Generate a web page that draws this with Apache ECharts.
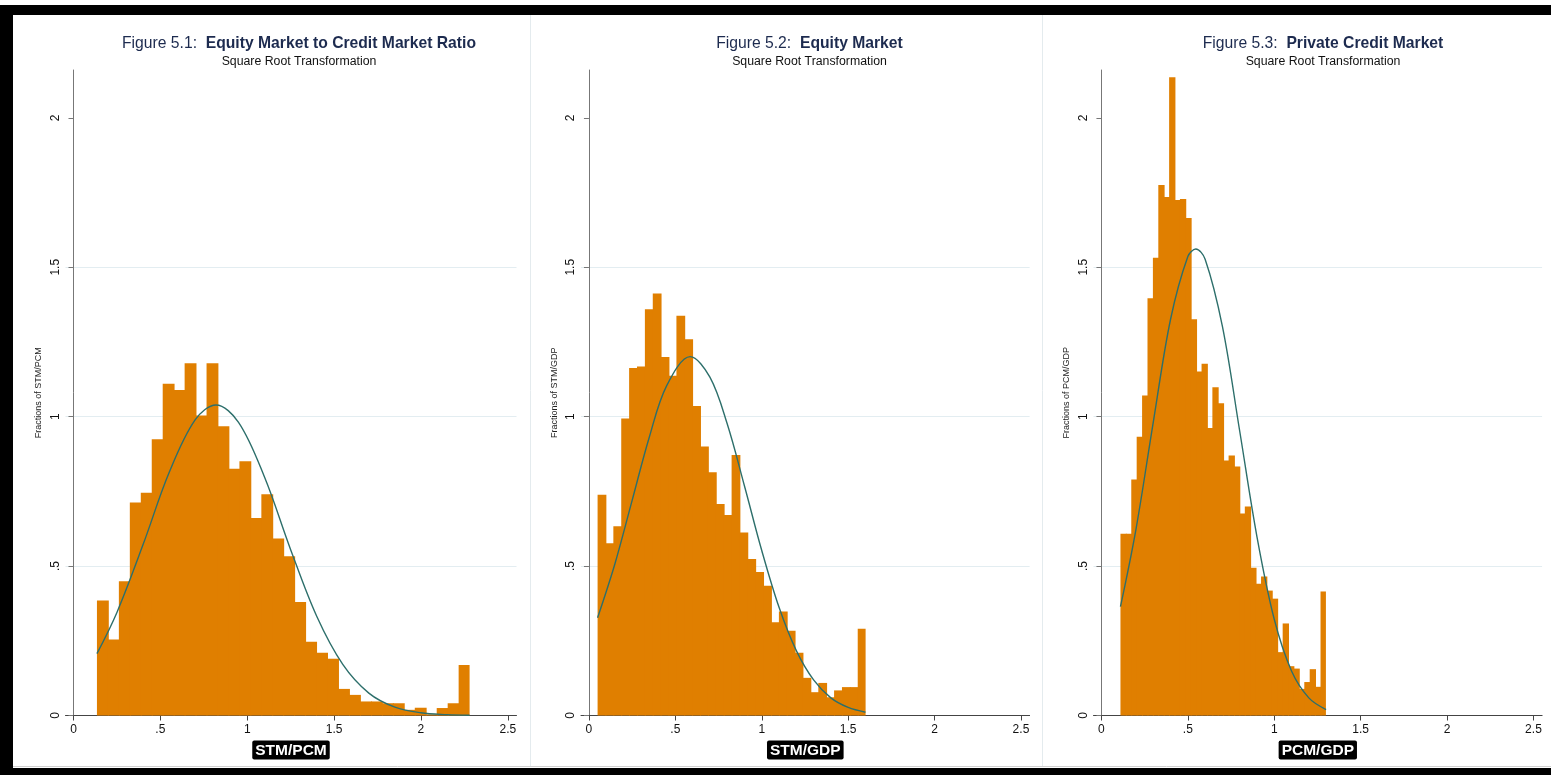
<!DOCTYPE html>
<html>
<head>
<meta charset="utf-8">
<script src="https://cdn.jsdelivr.net/npm/echarts@6/dist/echarts.min.js"></script>
<style>
  html, body { margin: 0; padding: 0; background: #fff; }
  #chart { width: 1551px; height: 775px; }
</style>
</head>
<body>
<div id="chart"></div>
<script>
// histogram bar heights (fractions)
const ratioRange = [0.135, 2.28];
const ratioHeights = [0.385, 0.254, 0.449, 0.713, 0.745, 0.924, 1.110, 1.089, 1.179, 1.004,
  1.179, 0.968, 0.826, 0.851, 0.661, 0.740, 0.592, 0.533, 0.380, 0.247,
  0.210, 0.190, 0.089, 0.069, 0.047, 0.047, 0.041, 0.041, 0.019, 0.026,
  0.004, 0.025, 0.041, 0.169];
const ratioCurve = [[0.135, 0.207], [0.25, 0.345], [0.4, 0.571], [0.55, 0.812], [0.7, 0.989],
  [0.82, 1.039], [0.95, 0.981], [1.1, 0.797], [1.25, 0.555], [1.4, 0.332], [1.55, 0.171],
  [1.7, 0.075], [1.85, 0.028], [2.0, 0.009], [2.15, 0.003], [2.28, 0.001]];

const equityRange = [0.05, 1.601];
const equityHeights = [0.739, 0.576, 0.633, 0.994, 1.163, 1.168, 1.359, 1.412, 1.200, 1.137,
  1.338, 1.259, 1.036, 0.900, 0.814, 0.708, 0.671, 0.872, 0.612, 0.524,
  0.480, 0.434, 0.312, 0.348, 0.284, 0.210, 0.126, 0.078, 0.109, 0.061,
  0.084, 0.095, 0.095, 0.290];
const equityCurve = [[0.05, 0.327], [0.15, 0.507], [0.25, 0.720], [0.35, 0.933], [0.45, 1.104],
  [0.586, 1.201], [0.7, 1.132], [0.8, 0.976], [0.9, 0.768], [1.0, 0.552], [1.1, 0.362],
  [1.2, 0.217], [1.3, 0.119], [1.4, 0.059], [1.5, 0.027], [1.6, 0.011]];

const creditRange = [0.11, 1.299];
const creditHeights = [0.608, 0.608, 0.790, 0.933, 1.071, 1.396, 1.532, 1.775, 1.735, 2.136,
  1.725, 1.728, 1.665, 1.326, 1.151, 1.177, 0.962, 1.098, 1.045, 0.853,
  0.870, 0.833, 0.676, 0.699, 0.494, 0.441, 0.465, 0.418, 0.391, 0.212,
  0.308, 0.165, 0.157, 0.089, 0.112, 0.155, 0.096, 0.415];
const creditCurve = [[0.11, 0.364], [0.2, 0.624], [0.3, 0.982], [0.4, 1.326], [0.5, 1.536],
  [0.546, 1.561], [0.6, 1.527], [0.7, 1.302], [0.8, 0.952], [0.9, 0.598], [1.0, 0.322],
  [1.1, 0.149], [1.2, 0.059], [1.3, 0.020]];

const xTicks = [0, 0.5, 1, 1.5, 2, 2.5];
const yTicks = [0, 0.5, 1, 1.5, 2];

const font = "'Liberation Sans', Arial, Helvetica, sans-serif";
const navy = '#1d2b4f';

const panels = [
  { fig: 'Figure 5.1:  ', name: 'Equity Market to Credit Market Ratio', xName: 'STM/PCM',
    range: ratioRange, heights: ratioHeights, curve: ratioCurve,
    grid: { left: 65.5, top: 70, width: 451, height: 645.5 }, titleX: 294 },
  { fig: 'Figure 5.2:  ', name: 'Equity Market', xName: 'STM/GDP',
    range: equityRange, heights: equityHeights, curve: equityCurve,
    grid: { left: 581, top: 70, width: 448.6, height: 645.5 }, titleX: 804.5 },
  { fig: 'Figure 5.3:  ', name: 'Private Credit Market', xName: 'PCM/GDP',
    range: creditRange, heights: creditHeights, curve: creditCurve,
    grid: { left: 1093.5, top: 70, width: 448.6, height: 645.5 }, titleX: 1318 }
];

const toBins = (range, heights) => {
  const w = (range[1] - range[0]) / heights.length;
  return heights.map((h, i) => [range[0] + i * w, range[0] + (i + 1) * w, h]);
};

const fmt = v => (v > 0 && v < 1 ? String(v).replace('0.', '.') : String(v));

const renderBar = (params, api) => {
  const p0 = api.coord([api.value(0), api.value(2)]);
  const p1 = api.coord([api.value(1), 0]);
  const last = params.dataIndex === params.dataInsideLength - 1;
  return {
    type: 'rect',
    shape: { x: p0[0], y: p0[1], width: p1[0] - p0[0] + (last ? 0 : 0.9), height: p1[1] - p0[1] },
    style: { fill: '#e07f00' }
  };
};

const option = {
  animation: false,
  backgroundColor: '#fff',
  title: panels.map(p => ({
    text: '{n|' + p.fig + '}{b|' + p.name + '}',
    subtext: 'Square Root Transformation',
    left: p.titleX, top: 31, textAlign: 'center', itemGap: 4,
    textStyle: {
      fontWeight: 'normal',
      rich: {
        n: { fontSize: 15.7, color: navy, fontWeight: 'normal', fontFamily: font },
        b: { fontSize: 15.7, color: navy, fontWeight: 'bold', fontFamily: font }
      }
    },
    subtextStyle: { fontSize: 12.3, color: '#111', fontFamily: font }
  })),
  grid: panels.map(p => p.grid),
  xAxis: panels.map((p, i) => ({
    type: 'value', gridIndex: i, min: -0.046, max: 2.55,
    name: p.xName, nameLocation: 'middle', nameGap: 21,
    nameTextStyle: {
      color: '#fff', backgroundColor: '#000', fontWeight: 'bold', fontSize: 15.5,
      fontFamily: font, padding: [2, 3, 1, 3], borderRadius: 2
    },
    axisLine: { lineStyle: { color: '#444', width: 1 } },
    axisTick: { customValues: xTicks, length: 5, lineStyle: { color: '#444' } },
    axisLabel: { customValues: xTicks, formatter: fmt, fontSize: 12, color: '#111',
      fontFamily: font, margin: 8 },
    splitLine: { show: false }
  })),
  yAxis: panels.map((p, i) => ({
    type: 'value', gridIndex: i, min: 0, max: 2.16, interval: 0.5,
    name: 'Fractions of ' + p.xName, nameLocation: 'middle', nameGap: 22, nameRotate: 90,
    nameTextStyle: { fontSize: 9, color: '#222', fontFamily: font },
    axisLine: { show: true, lineStyle: { color: '#777', width: 1 } },
    axisTick: { show: true, customValues: yTicks, length: 5, lineStyle: { color: '#777' } },
    axisLabel: { customValues: yTicks, formatter: fmt, rotate: 90, fontSize: 12, color: '#111',
      fontFamily: font, margin: 4 },
    splitLine: { show: true, showMinLine: false, showMaxLine: false,
      lineStyle: { color: '#e3edf1', width: 1 } }
  })),
  series: panels.flatMap((p, i) => [
    {
      type: 'custom', xAxisIndex: i, yAxisIndex: i,
      renderItem: renderBar, encode: { x: [0, 1], y: 2 },
      data: toBins(p.range, p.heights), z: 2
    },
    {
      type: 'line', xAxisIndex: i, yAxisIndex: i, data: p.curve,
      smooth: 0.35, showSymbol: false, z: 3,
      lineStyle: { color: '#2d6f6b', width: 1.4 }
    }
  ]),
  graphic: [
    { type: 'rect', shape: { x: 0, y: 5, width: 13, height: 770 }, style: { fill: '#000' } },
    { type: 'rect', shape: { x: 0, y: 5, width: 1551, height: 10 }, style: { fill: '#000' } },
    { type: 'rect', shape: { x: 0, y: 768, width: 1551, height: 7 }, style: { fill: '#000' } },
    { type: 'line', shape: { x1: 13, y1: 766.5, x2: 1551, y2: 766.5 }, style: { stroke: '#d0d0d0', lineWidth: 1 } },
    { type: 'line', shape: { x1: 530.5, y1: 15, x2: 530.5, y2: 766 }, style: { stroke: '#e4ebee', lineWidth: 1 } },
    { type: 'line', shape: { x1: 1042.5, y1: 15, x2: 1042.5, y2: 766 }, style: { stroke: '#e4ebee', lineWidth: 1 } }
  ]
};

const chart = echarts.init(document.getElementById('chart'));
chart.setOption(option);
window.addEventListener('resize', () => chart.resize());
</script>
</body>
</html>
